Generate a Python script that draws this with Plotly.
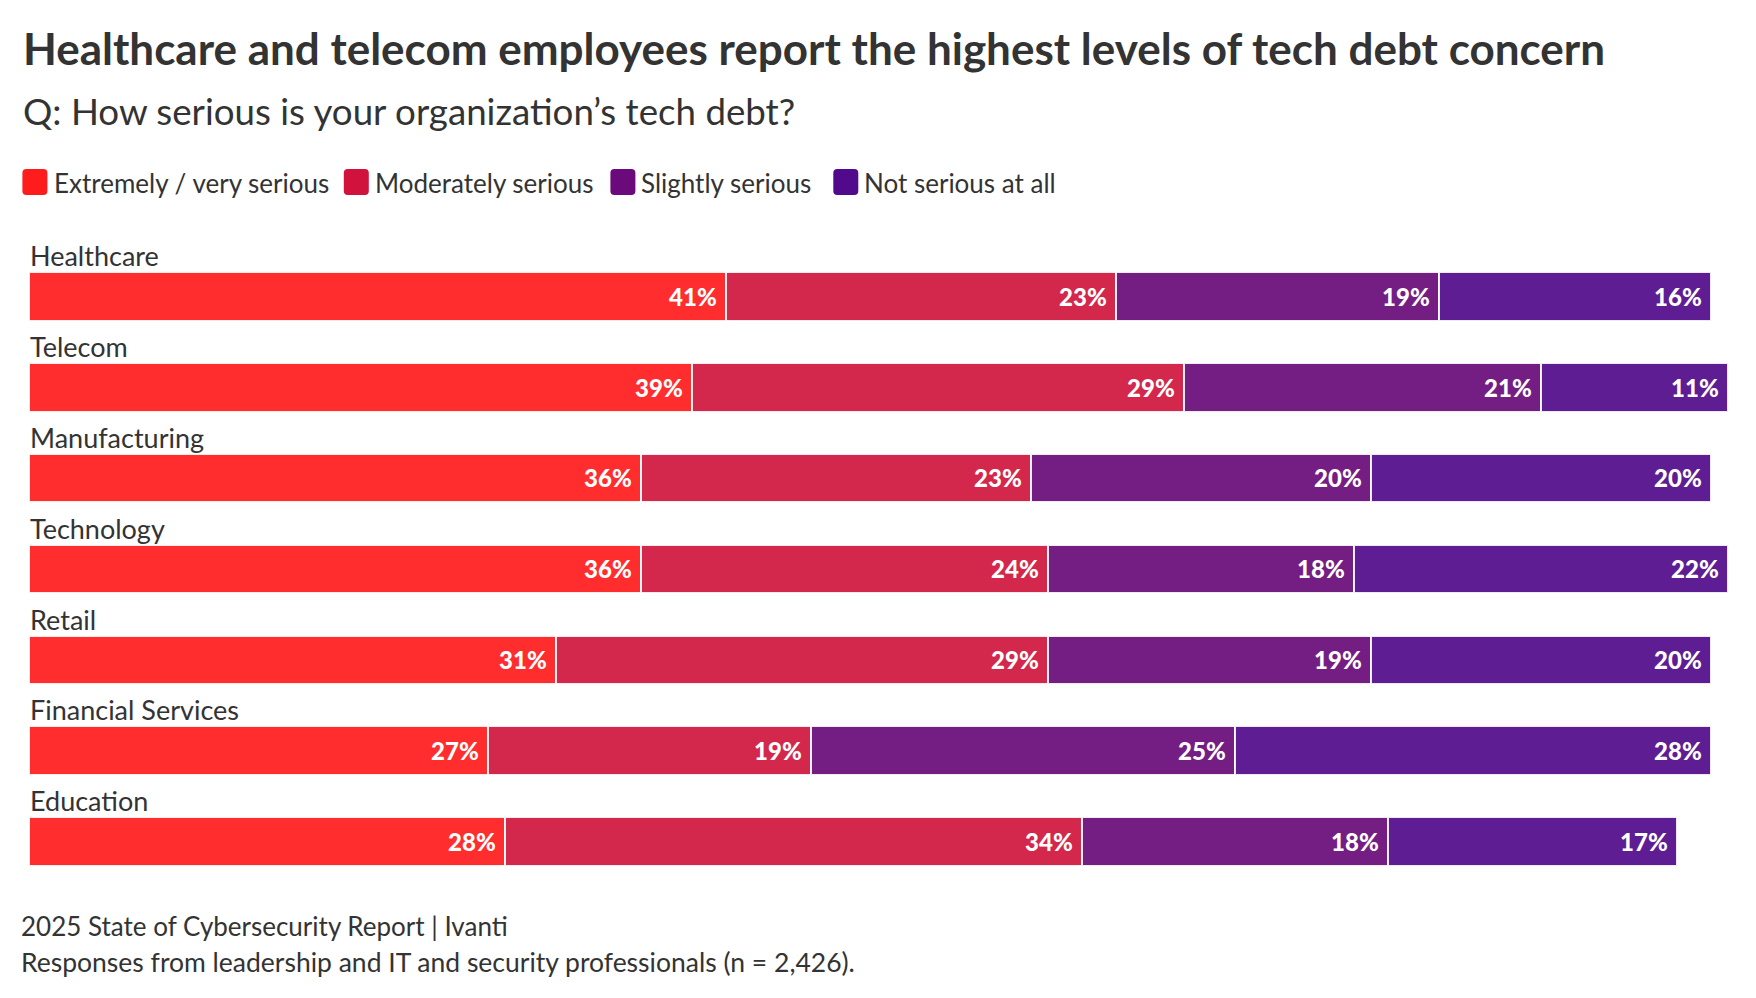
import plotly.graph_objects as go

# ---------------- data ----------------
categories = ["Healthcare", "Telecom", "Manufacturing", "Technology",
              "Retail", "Financial Services", "Education"]
extremely = [41, 39, 36, 36, 31, 27, 28]
moderately = [23, 29, 23, 24, 29, 19, 34]
slightly = [19, 21, 20, 18, 19, 25, 18]
not_serious = [16, 11, 20, 22, 20, 28, 17]
series_names = ["Extremely / very serious", "Moderately serious",
                "Slightly serious", "Not serious at all"]

title_text = "Healthcare and telecom employees report the highest levels of tech debt concern"
subtitle_text = "Q: How serious is your organization\u2019s tech debt?"
source_text = "2025 State of Cybersecurity Report | Ivanti"
note_text = "Responses from leadership and IT and security professionals (n = 2,426)."

# ---------------- style ----------------
bar_colors = ["#FF2D2D", "#D3284B", "#741E83", "#5E1D93"]
legend_colors = ["#FF1C1C", "#D0123C", "#6B0A7B", "#520A8C"]
FONT = "Lato"
TXT = "#333333"

OFF = 8  # page body margin
W, H = 1740, 980
ML, MR, MT, MB = 29 - OFF, 20, 251 - OFF, 101
plot_w = W - ML - MR
plot_h = H - MT - MB


def py(Y):
    # Y: pixel position in the browser window
    return (H - MB - (Y - OFF)) / plot_h


def px(X):
    return (X - OFF - ML) / plot_w


fig = go.Figure()
ypos = list(range(len(categories)))
for name, vals, col in zip(series_names,
                           [extremely, moderately, slightly, not_serious],
                           bar_colors):
    fig.add_trace(go.Bar(
        y=ypos, x=vals, orientation="h", name=name,
        width=0.534,
        marker=dict(color=col, line=dict(color="rgba(255,255,255,0.9)", width=2.5)),
        text=[f"{v}%\u202f" for v in vals],
        textposition="inside", insidetextanchor="end",
        textfont=dict(family=FONT, size=24, color="white", weight=900),
        constraintext="none",
        showlegend=False, hoverinfo="skip",
    ))

annotations = []
# category labels above bars
for i, c in enumerate(categories):
    annotations.append(dict(
        x=0, y=i - 0.267, xref="x", yref="y", text=c, showarrow=False,
        xanchor="left", yanchor="bottom", xshift=-1, yshift=-2,
        font=dict(family=FONT, size=27, color=TXT)))

# title / subtitle
annotations.append(dict(
    x=px(21), y=py(48), xref="paper", yref="paper", text=title_text,
    showarrow=False, xanchor="left", yanchor="middle",
    font=dict(family=FONT, size=44, color=TXT, weight="bold")))
annotations.append(dict(
    x=px(21), y=py(111), xref="paper", yref="paper", text=subtitle_text,
    showarrow=False, xanchor="left", yanchor="middle",
    font=dict(family=FONT, size=36.7, color=TXT)))

# footer
annotations.append(dict(
    x=px(19), y=py(926), xref="paper", yref="paper", text=source_text,
    showarrow=False, xanchor="left", yanchor="middle",
    font=dict(family=FONT, size=26, color=TXT)))
annotations.append(dict(
    x=px(19), y=py(962), xref="paper", yref="paper", text=note_text,
    showarrow=False, xanchor="left", yanchor="middle",
    font=dict(family=FONT, size=26.5, color=TXT)))

# custom legend
legend_square_x = [22.4, 343.8, 610.4, 833.3]
legend_text_x = [52.0, 373.0, 639.0, 861.5]
shapes = []
sq_top, sq_bot, rad = 169, 195, 4


def rounded_rect(x0, y0, x1, y1, r):
    X0, X1 = px(x0), px(x1)
    Y0, Y1 = py(y0), py(y1)  # Y0 top, Y1 bottom
    rx, ry = r / plot_w, r / plot_h
    return (f"M {X0+rx},{Y0} L {X1-rx},{Y0} Q {X1},{Y0} {X1},{Y0-ry} "
            f"L {X1},{Y1+ry} Q {X1},{Y1} {X1-rx},{Y1} "
            f"L {X0+rx},{Y1} Q {X0},{Y1} {X0},{Y1+ry} "
            f"L {X0},{Y0-ry} Q {X0},{Y0} {X0+rx},{Y0} Z")


for name, col, sx, tx in zip(series_names, legend_colors, legend_square_x, legend_text_x):
    shapes.append(dict(type="path", xref="paper", yref="paper",
                       path=rounded_rect(sx, sq_top, sx + 25, sq_bot, rad),
                       fillcolor=col, line=dict(width=0)))
    annotations.append(dict(
        x=px(tx), y=py(183), xref="paper", yref="paper", text=name,
        showarrow=False, xanchor="left", yanchor="middle",
        font=dict(family=FONT, size=26, color=TXT)))

fig.update_layout(
    width=W, height=H,
    margin=dict(l=ML, r=MR, t=MT, b=MB, pad=0),
    barmode="stack", bargap=0,
    paper_bgcolor="white", plot_bgcolor="white",
    xaxis=dict(range=[0, 100], visible=False, fixedrange=True),
    yaxis=dict(range=[6.5, -0.5], visible=False, fixedrange=True),
    annotations=annotations, shapes=shapes,
    hovermode=False,
    font=dict(family=FONT, color=TXT),
)

fig.write_html("out.html")
